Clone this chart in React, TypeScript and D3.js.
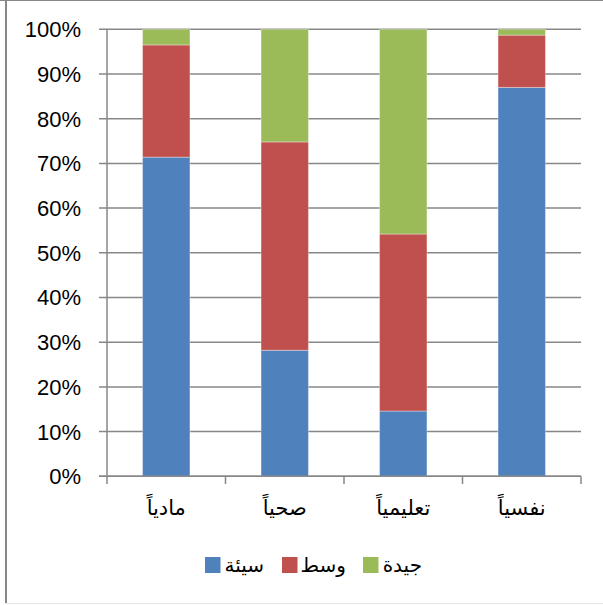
import React from "react";
import * as d3 from "d3";

// Categories along the x axis
const categories = ["مادياً", "صحياً", "تعليمياً", "نفسياً"];
// Series names (legend) and their shares in percent per category
const seriesNames = ["سيئة", "وسط", "جيدة"];
const badValues = [71.4, 28.2, 14.6, 87.0];
const midValues = [25.1, 46.6, 39.6, 11.7];
const goodValues = [3.5, 25.2, 45.8, 1.3];
const seriesColors = ["#4F81BD", "#C0504D", "#9BBB59"];
const yTicks = [0, 10, 20, 30, 40, 50, 60, 70, 80, 90, 100];

const W = 603;
const H = 605;
const plot = { left: 107, right: 581, top: 29.3, bottom: 476.3 };

export default function App() {
  const x = d3
    .scaleBand<string>()
    .domain(categories)
    .range([plot.left, plot.right])
    .paddingInner(0.6)
    .paddingOuter(0.3);
  const xOuter = d3.scaleBand<string>().domain(categories).range([plot.left, plot.right]);
  const y = d3.scaleLinear().domain([0, 100]).range([plot.bottom, plot.top]);

  const rows = categories.map((c, i) => ({
    cat: c,
    s0: badValues[i],
    s1: midValues[i],
    s2: goodValues[i],
  }));
  const stack = d3.stack<any>().keys(["s0", "s1", "s2"]);
  const layers = stack(rows);

  const gridColor = "#878787";
  const legendY = 565;
  const legendItems = [
    { sq: 205, tx: 264, i: 0 },
    { sq: 282, tx: 346, i: 1 },
    { sq: 363, tx: 422, i: 2 },
  ];

  return (
    <svg
      width={W}
      height={H}
      style={{ position: "absolute", left: 0, top: 0, background: "#fff" }}
    >
      <rect x={0} y={0} width={W} height={H} fill="#fff" />
      {/* chart frame */}
      <line x1={6} x2={6} y1={0} y2={603} stroke="#888" strokeWidth={2} />
      <line x1={0} x2={W} y1={0.5} y2={0.5} stroke="#888" strokeWidth={1} />
      <line x1={6} x2={W} y1={603.5} y2={603.5} stroke="#e6e6e6" strokeWidth={1} />

      {/* horizontal gridlines and y ticks */}
      {yTicks.map((t) => (
        <g key={t}>
          <line
            x1={99}
            x2={plot.right}
            y1={y(t)}
            y2={y(t)}
            stroke={gridColor}
            strokeWidth={1.5}
          />
          <text
            x={81}
            y={y(t)}
            dy="0.36em"
            textAnchor="end"
            fontFamily="'Liberation Sans', Arial, sans-serif"
            fontSize={22}
            fill="#000"
          >
            {t}%
          </text>
        </g>
      ))}

      {/* stacked bars */}
      {layers.map((layer, li) =>
        layer.map((d, ci) => (
          <rect
            key={li + "-" + ci}
            x={x(categories[ci])!}
            y={y(d[1])}
            width={x.bandwidth()}
            height={y(d[0]) - y(d[1])}
            fill={seriesColors[li]}
            stroke="rgba(255,255,255,0.35)"
            strokeWidth={1}
          />
        ))
      )}

      {/* axes */}
      <line x1={plot.left} x2={plot.left} y1={plot.top} y2={484} stroke={gridColor} strokeWidth={1.5} />
      <line x1={99} x2={plot.right} y1={plot.bottom} y2={plot.bottom} stroke={gridColor} strokeWidth={1.5} />
      {categories.map((c, i) => (
        <line
          key={"tk" + i}
          x1={xOuter(c)! + xOuter.bandwidth()}
          x2={xOuter(c)! + xOuter.bandwidth()}
          y1={plot.bottom}
          y2={484}
          stroke={gridColor}
          strokeWidth={1.5}
        />
      ))}
      {categories.map((c) => (
        <text
          key={"lb" + c}
          x={xOuter(c)! + xOuter.bandwidth() / 2}
          y={508}
          dy="0.35em"
          textAnchor="middle"
          direction="rtl"
          fontFamily="'DejaVu Sans', sans-serif"
          fontSize={21}
          fill="#000"
        >
          {c}
        </text>
      ))}

      {/* legend */}
      {legendItems.map((it) => (
        <g key={"lg" + it.i}>
          <rect x={it.sq} y={legendY - 8} width={15.5} height={16} fill={seriesColors[it.i]} />
          <text
            x={it.tx}
            y={legendY}
            dy="0.35em"
            textAnchor="start"
            direction="rtl"
            fontFamily="'DejaVu Sans', sans-serif"
            fontSize={20}
            fill="#000"
          >
            {seriesNames[it.i]}
          </text>
        </g>
      ))}
    </svg>
  );
}
